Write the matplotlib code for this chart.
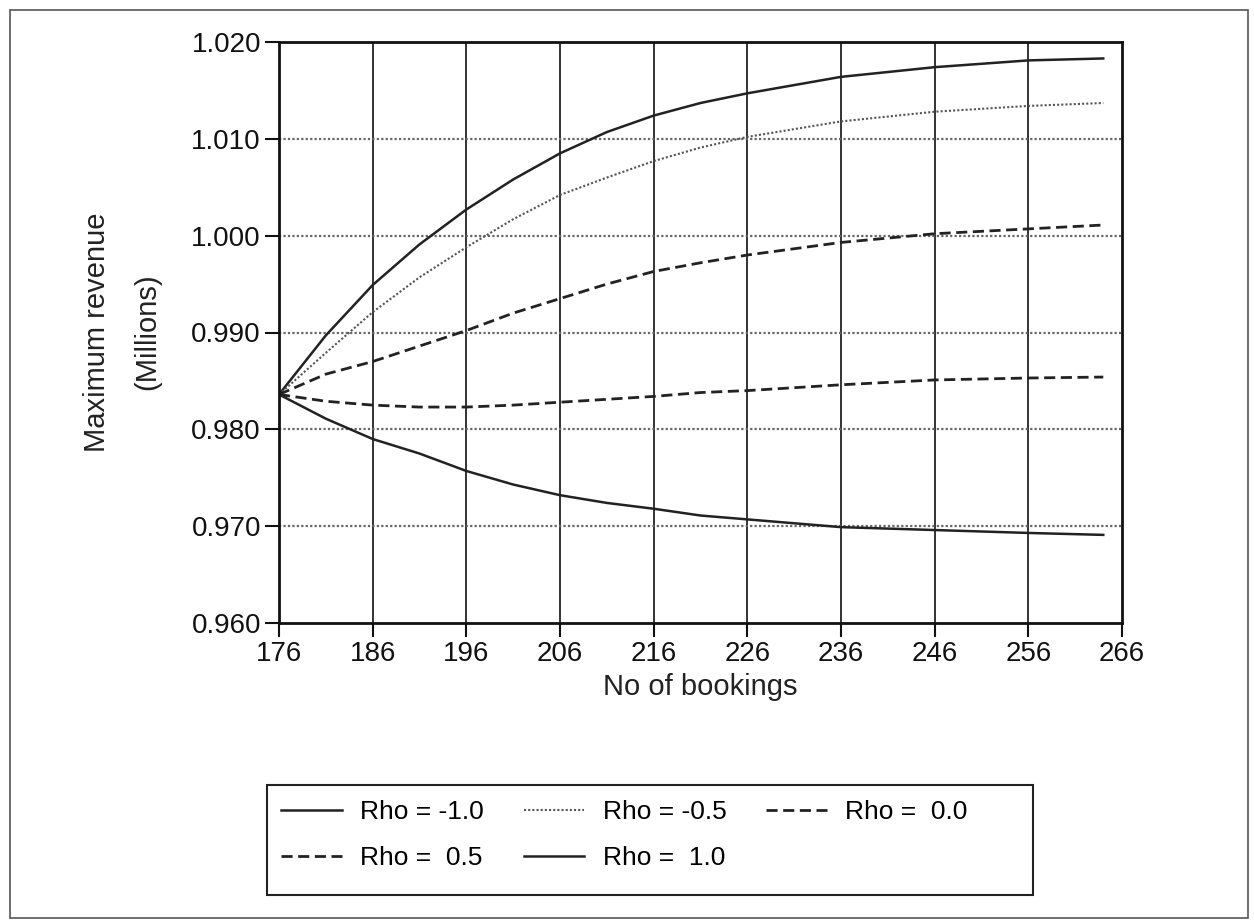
import matplotlib
matplotlib.use("Agg")
import matplotlib.pyplot as plt
from matplotlib.patches import Rectangle

# --- data ---
bookings = [176, 181, 186, 191, 196, 201, 206, 211, 216, 221, 226, 236, 246, 256, 264]

rho_m10 = [0.9836, 0.9897, 0.9949, 0.9991, 1.0027, 1.0058, 1.0085, 1.0107,
           1.0124, 1.0137, 1.0147, 1.0164, 1.0174, 1.0181, 1.0183]
rho_m05 = [0.9836, 0.9879, 0.9921, 0.9957, 0.9988, 1.0017, 1.0042, 1.0060,
           1.0077, 1.0091, 1.0102, 1.0118, 1.0128, 1.0134, 1.0137]
rho_00 = [0.9836, 0.9857, 0.9870, 0.9886, 0.9902, 0.9920, 0.9935, 0.9950,
          0.9963, 0.9972, 0.9980, 0.9993, 1.0002, 1.0007, 1.0011]
rho_05 = [0.9836, 0.9829, 0.9825, 0.9823, 0.9823, 0.9825, 0.9828, 0.9831,
          0.9834, 0.9838, 0.9840, 0.9846, 0.9851, 0.9853, 0.9854]
rho_10 = [0.9836, 0.9811, 0.9790, 0.9775, 0.9757, 0.9743, 0.9732, 0.9724,
          0.9718, 0.9711, 0.9707, 0.9699, 0.9696, 0.9693, 0.9691]

labels = ["Rho = -1.0", "Rho = -0.5", "Rho =  0.0", "Rho =  0.5", "Rho =  1.0"]
x_ticks = [176, 186, 196, 206, 216, 226, 236, 246, 256, 266]
y_ticks = [0.960, 0.970, 0.980, 0.990, 1.000, 1.010, 1.020]

plt.rcParams["font.family"] = ["Liberation Sans", "DejaVu Sans"]

W, H = 1254, 923
fig = plt.figure(figsize=(W / 100, H / 100), dpi=100)
ax = fig.add_axes([279 / W, 1 - 623 / H, (1122 - 279) / W, (623 - 42) / H])

ink = "#222222"
ax.plot(bookings, rho_m10, color=ink, lw=1.8, label=labels[0])
ax.plot(bookings, rho_m05, color="#555555", lw=1.5, ls=(0, (1, 1)), label=labels[1])
ax.plot(bookings, rho_00, color=ink, lw=2.0, ls=(0, (4, 2)), label=labels[2])
ax.plot(bookings, rho_05, color=ink, lw=2.0, ls=(0, (4, 2)), label=labels[3])
ax.plot(bookings, rho_10, color=ink, lw=1.8, label=labels[4])

ax.set_xlim(176, 266)
ax.set_ylim(0.960, 1.020)
ax.set_xticks(x_ticks)
ax.set_yticks(y_ticks)
ax.set_yticklabels([f"{v:.3f}" for v in y_ticks])

# grid: solid verticals, dotted horizontals
for xv in x_ticks[1:-1]:
    ax.axvline(xv, color="#333333", lw=1.4, zorder=0)
for yv in y_ticks[1:-1]:
    ax.axhline(yv, color="#666666", lw=1.6, ls=(0, (1, 1)), zorder=0)

for sp in ax.spines.values():
    sp.set_linewidth(2)
    sp.set_color("#111111")
ax.tick_params(direction="out", length=10, width=1.5, labelsize=20,
               colors="#111111", pad=3)

ax.set_xlabel("No of bookings", fontsize=21, color="#222222", labelpad=4)
fig.text(97 / W, 1 - 332 / H, "Maximum revenue", rotation=90, fontsize=21,
         ha="center", va="center", color="#222222")
fig.text(147 / W, 1 - 332 / H, "(Millions)", rotation=90, fontsize=21,
         ha="center", va="center", color="#222222")

# legend in its own box below the plot, filled row by row
fig.patches.append(Rectangle((267 / W, 1 - 895 / H), (1033 - 267) / W, (895 - 785) / H,
                             transform=fig.transFigure, fill=False,
                             edgecolor="#222222", lw=1.5))
handles, leg_labels = ax.get_legend_handles_labels()
order = [0, 3, 1, 4, 2]
fig.legend([handles[i] for i in order], [leg_labels[i] for i in order],
           ncol=3, loc="upper left", frameon=False,
           bbox_to_anchor=(281 / W, 1 - 800 / H), borderpad=0, borderaxespad=0,
           fontsize=19, handlelength=2.3, handletextpad=0.7,
           columnspacing=1.5, labelspacing=0.85)

# outer frame of the scanned figure
fig.patches.append(Rectangle((10 / W, 1 - 918 / H), (1248 - 10) / W, (918 - 10) / H,
                             transform=fig.transFigure, fill=False,
                             edgecolor="#555555", lw=1.2))

fig.savefig("out.png", dpi=100)
